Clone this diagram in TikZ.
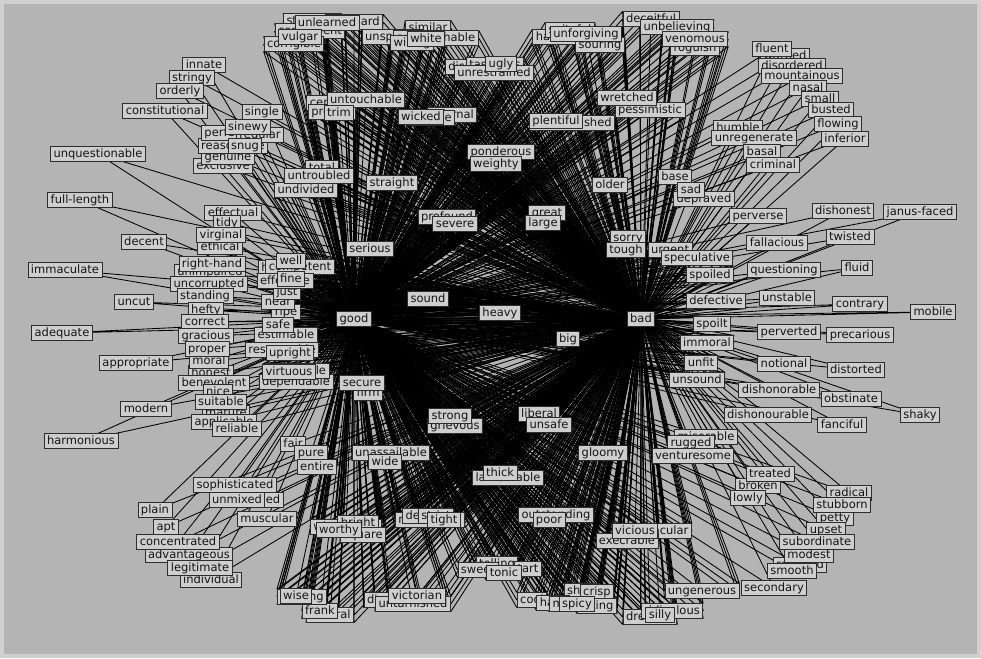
\documentclass[tikz,border=0pt]{standalone}
\usepackage{fontspec}
\newfontfamily\wfont{DejaVu Sans}
\pgfdeclarelayer{back}
\pgfdeclarelayer{edges}
\pgfsetlayers{back,edges,main}
\definecolor{bggray}{RGB}{180,180,180}
\definecolor{framegray}{RGB}{208,208,208}
\definecolor{boxgray}{RGB}{206,206,206}
\definecolor{boxline}{RGB}{45,45,45}
\tikzset{
  w/.style={draw=boxline, fill=boxgray, text=black!92, line width=0.9pt,
    font=\wfont\fontsize{11.5}{13}\selectfont, inner xsep=3pt, inner ysep=1.6pt,
    text height=8.6pt, text depth=2.4pt},
  e/.style={draw=black, line width=0.85pt}
}
% word node with one edge to each hub
\newcommand\W[4]{\node[w] (#1) at (#2,#3) {#4};
  \begin{pgfonlayer}{edges}\draw[e] (#1.center) -- (good.center) (#1.center) -- (bad.center);\end{pgfonlayer}}
% word node inside a stacked cluster: a band of edges to each hub
\newcommand\Wd[4]{\node[w] (#1) at (#2,#3) {#4};
  \begin{pgfonlayer}{edges}\foreach \an in {west,north west,south west,center,north east,south east,east}
    {\draw[e] (#1.\an) -- (good.center) (#1.\an) -- (bad.center);}\end{pgfonlayer}}
\begin{document}
\begin{tikzpicture}[x=1pt,y=-1pt]
\useasboundingbox (0,0) rectangle (981,658);
\begin{pgfonlayer}{back}
\fill[framegray] (0,0) rectangle (981,658);
\fill[bggray] (4,4) rectangle (977,654);
\end{pgfonlayer}
\node[w] (good) at (354,319) {good};
\node[w] (bad) at (641,319) {bad};
% top-left cluster
\Wd{standard}{312}{21}{standard}
\Wd{awkward}{354}{22}{awkward}
\Wd{convenient}{310}{31}{convenient}
\Wd{corrigible}{294}{44}{corrigible}
\Wd{unlearned}{327}{23}{unlearned}
\Wd{vulgar}{300}{37}{vulgar}
% top-middle cluster
\Wd{similar}{428}{28}{similar}
\Wd{unspoiled}{393}{37}{unspoiled}
\Wd{approachable}{436}{38}{approachable}
\Wd{willing}{412}{43}{willing}
\Wd{white}{426}{39}{white}
\Wd{disgusting}{478}{67}{disgusting}
\Wd{tasteless}{495}{65}{tasteless}
\Wd{unrestrained}{494}{73}{unrestrained}
\Wd{ugly}{501}{64}{ugly}
\Wd{hateful}{556}{37}{hateful}
\Wd{spiteful}{570}{30}{spiteful}
\Wd{souring}{600}{45}{souring}
\Wd{unforgiving}{586}{34}{unforgiving}
\Wd{deceitful}{651}{19}{deceitful}
\Wd{roguish}{695}{48}{roguish}
\Wd{unbelieving}{677}{27}{unbelieving}
\Wd{venomous}{695}{39}{venomous}
\Wd{certain}{330}{103}{certain}
\Wd{precise}{332}{112}{precise}
\Wd{untouchable}{366}{100}{untouchable}
\Wd{trim}{339}{113}{trim}
\Wd{infernal}{452}{115}{infernal}
\Wd{terrible}{431}{118}{terrible}
\Wd{wicked}{421}{117}{wicked}
\Wd{accomplished}{572}{123}{accomplished}
\Wd{plentiful}{556}{121}{plentiful}
\Wd{pessimistic}{650}{110}{pessimistic}
\Wd{wretched}{627}{98}{wretched}
\Wd{ponderous}{501}{152}{ponderous}
\Wd{weighty}{496}{164}{weighty}
\Wd{total}{322}{168}{total}
\Wd{undivided}{306}{190}{undivided}
\Wd{untroubled}{319}{176}{untroubled}
\W{straight}{392}{183}{straight}
\W{older}{610}{185}{older}
% right-top
\W{humble}{738}{128}{humble}
\W{unregenerate}{754}{138}{unregenerate}
\W{basal}{762}{152}{basal}
\W{criminal}{773}{165}{criminal}
\W{base}{675}{177}{base}
\W{depraved}{704}{199}{depraved}
\W{sad}{691}{190}{sad}
\W{warped}{785}{56}{warped}
\W{fluent}{772}{49}{fluent}
\W{disordered}{792}{66}{disordered}
\W{mountainous}{802}{76}{mountainous}
\W{nasal}{808}{88}{nasal}
\W{small}{820}{99}{small}
\W{busted}{831}{110}{busted}
\W{flowing}{838}{124}{flowing}
\W{inferior}{845}{139}{inferior}
% left-top
\W{innate}{204}{65}{innate}
\W{stringy}{192}{78}{stringy}
\W{orderly}{180}{91}{orderly}
\W{constitutional}{165}{111}{constitutional}
\W{exclusive}{223}{166}{exclusive}
\W{genuine}{228}{157}{genuine}
\W{reasonable}{233}{146}{reasonable}
\W{perfect}{225}{133}{perfect}
\W{regular}{260}{135}{regular}
\W{single}{262}{112}{single}
\W{sinewy}{248}{127}{sinewy}
\W{snug}{245}{146}{snug}
\W{unquestionable}{98}{154}{unquestionable}
\W{fulllength}{80}{200}{full-length}
% left
\W{effectual}{233}{213}{effectual}
\W{tidy}{227}{223}{tidy}
\W{ethical}{220}{247}{ethical}
\W{virginal}{221}{235}{virginal}
\W{decent}{144}{242}{decent}
\W{unimpaired}{210}{272}{unimpaired}
\W{righthand}{212}{264}{right-hand}
\W{immaculate}{65}{270}{immaculate}
\W{uncorrupted}{209}{284}{uncorrupted}
\W{standing}{205}{296}{standing}
\W{uncut}{134}{302}{uncut}
\W{hefty}{206}{310}{hefty}
\W{correct}{205}{322}{correct}
\W{adequate}{62}{333}{adequate}
\W{gracious}{206}{336}{gracious}
\W{honest}{211}{373}{honest}
\W{moral}{209}{361}{moral}
\W{proper}{207}{349}{proper}
\W{appropriate}{136}{363}{appropriate}
\W{benevolent}{214}{383}{benevolent}
\W{nice}{218}{392}{nice}
\W{mature}{226}{413}{mature}
\W{suitable}{221}{402}{suitable}
\W{modern}{146}{409}{modern}
\W{applicable}{224}{422}{applicable}
\W{reliable}{237}{429}{reliable}
\W{harmonious}{81}{441}{harmonious}
% inner left
\Wd{dependable}{296}{382}{dependable}
\Wd{admirable}{297}{371}{admirable}
\Wd{virtuous}{289}{372}{virtuous}
\Wd{respectable}{282}{350}{respectable}
\Wd{upright}{290}{353}{upright}
\Wd{estimable}{286}{335}{estimable}
\Wd{ripe}{286}{312}{ripe}
\Wd{safe}{278}{325}{safe}
\Wd{near}{278}{302}{near}
\Wd{just}{287}{292}{just}
\Wd{healthy}{283}{268}{healthy}
\Wd{competent}{300}{267}{competent}
\Wd{effective}{285}{281}{effective}
\Wd{fine}{291}{279}{fine}
\Wd{well}{291}{261}{well}
% middle
\W{serious}{370}{249}{serious}
\Wd{profound}{447}{217}{profound}
\Wd{severe}{455}{224}{severe}
\Wd{great}{547}{213}{great}
\Wd{large}{543}{223}{large}
\W{sound}{428}{299}{sound}
\W{heavy}{500}{313}{heavy}
\W{big}{568}{339}{big}
\Wd{firm}{368}{393}{firm}
\Wd{secure}{362}{383}{secure}
\Wd{grievous}{455}{426}{grievous}
\Wd{strong}{450}{416}{strong}
\Wd{liberal}{539}{414}{liberal}
\Wd{unsafe}{549}{425}{unsafe}
\Wd{sorry}{628}{238}{sorry}
\Wd{tough}{626}{250}{tough}
\Wd{urgent}{670}{250}{urgent}
\Wd{speculative}{697}{258}{speculative}
\Wd{spoiled}{710}{275}{spoiled}
\Wd{defective}{716}{301}{defective}
\Wd{spoilt}{712}{324}{spoilt}
\Wd{immoral}{707}{343}{immoral}
\Wd{unfit}{701}{363}{unfit}
\Wd{unsound}{697}{380}{unsound}
% right
\W{perverse}{758}{216}{perverse}
\W{dishonest}{843}{211}{dishonest}
\W{janusfaced}{920}{212}{janus-faced}
\W{fallacious}{777}{243}{fallacious}
\W{twisted}{850}{237}{twisted}
\W{questioning}{784}{270}{questioning}
\W{fluid}{857}{268}{fluid}
\W{unstable}{787}{298}{unstable}
\W{contrary}{860}{304}{contrary}
\W{mobile}{933}{312}{mobile}
\W{perverted}{789}{332}{perverted}
\W{precarious}{860}{335}{precarious}
\W{notional}{784}{364}{notional}
\W{distorted}{856}{370}{distorted}
\W{dishonorable}{779}{390}{dishonorable}
\W{obstinate}{851}{399}{obstinate}
\W{dishonourable}{768}{415}{dishonourable}
\W{shaky}{920}{415}{shaky}
\W{fanciful}{842}{425}{fanciful}
% lower right
\W{miserable}{706}{437}{miserable}
\W{rugged}{691}{443}{rugged}
\W{venturesome}{693}{456}{venturesome}
\W{broken}{758}{486}{broken}
\W{treated}{770}{474}{treated}
\W{lowly}{748}{498}{lowly}
\W{petty}{835}{518}{petty}
\W{radical}{849}{493}{radical}
\W{stubborn}{842}{505}{stubborn}
\W{upset}{826}{530}{upset}
\W{rounded}{800}{565}{rounded}
\W{modest}{809}{555}{modest}
\W{subordinate}{817}{542}{subordinate}
\W{smooth}{792}{571}{smooth}
\W{secondary}{774}{588}{secondary}
% lower middle
\Wd{gloomy}{603}{453}{gloomy}
\Wd{lamentable}{508}{478}{lamentable}
\Wd{thick}{500}{473}{thick}
\Wd{outstanding}{556}{515}{outstanding}
\Wd{poor}{549}{520}{poor}
\Wd{spectacular}{655}{531}{spectacular}
\Wd{execrable}{627}{541}{execrable}
\Wd{vicious}{635}{531}{vicious}
\Wd{telling}{497}{564}{telling}
\Wd{sweet}{478}{570}{sweet}
\Wd{tart}{528}{569}{tart}
\Wd{tonic}{504}{573}{tonic}
\Wd{cool}{532}{600}{cool}
\Wd{short}{582}{591}{short}
\Wd{crisp}{597}{592}{crisp}
\Wd{hard}{553}{603}{hard}
\Wd{mild}{565}{604}{mild}
\Wd{biting}{597}{606}{biting}
\Wd{spicy}{577}{604}{spicy}
\Wd{ungenerous}{702}{591}{ungenerous}
\Wd{dreadful}{650}{617}{dreadful}
\Wd{ridiculous}{672}{611}{ridiculous}
\Wd{silly}{660}{615}{silly}
\Wd{meticulous}{430}{520}{meticulous}
\Wd{dense}{423}{516}{dense}
\Wd{strict}{436}{516}{strict}
\Wd{tight}{444}{520}{tight}
\Wd{wholesome}{346}{527}{wholesome}
\Wd{bright}{358}{523}{bright}
\Wd{square}{363}{535}{square}
\Wd{worthy}{339}{530}{worthy}
\W{fair}{293}{444}{fair}
\W{pure}{311}{453}{pure}
\W{entire}{317}{467}{entire}
\Wd{unassailable}{391}{453}{unassailable}
\Wd{wide}{385}{462}{wide}
% lower left
\W{sophisticated}{235}{485}{sophisticated}
\W{refined}{260}{500}{refined}
\W{unmixed}{237}{500}{unmixed}
\W{muscular}{267}{519}{muscular}
\W{plain}{155}{510}{plain}
\W{apt}{166}{527}{apt}
\W{advantageous}{189}{555}{advantageous}
\W{individual}{211}{580}{individual}
\W{legitimate}{200}{568}{legitimate}
\W{concentrated}{178}{542}{concentrated}
\Wd{natural}{330}{615}{natural}
\Wd{frank}{320}{611}{frank}
\Wd{sterling}{302}{597}{sterling}
\Wd{wise}{296}{596}{wise}
\Wd{dignified}{392}{600}{dignified}
\Wd{untarnished}{413}{604}{untarnished}
\Wd{victorian}{417}{596}{victorian}
\end{tikzpicture}
\end{document}
